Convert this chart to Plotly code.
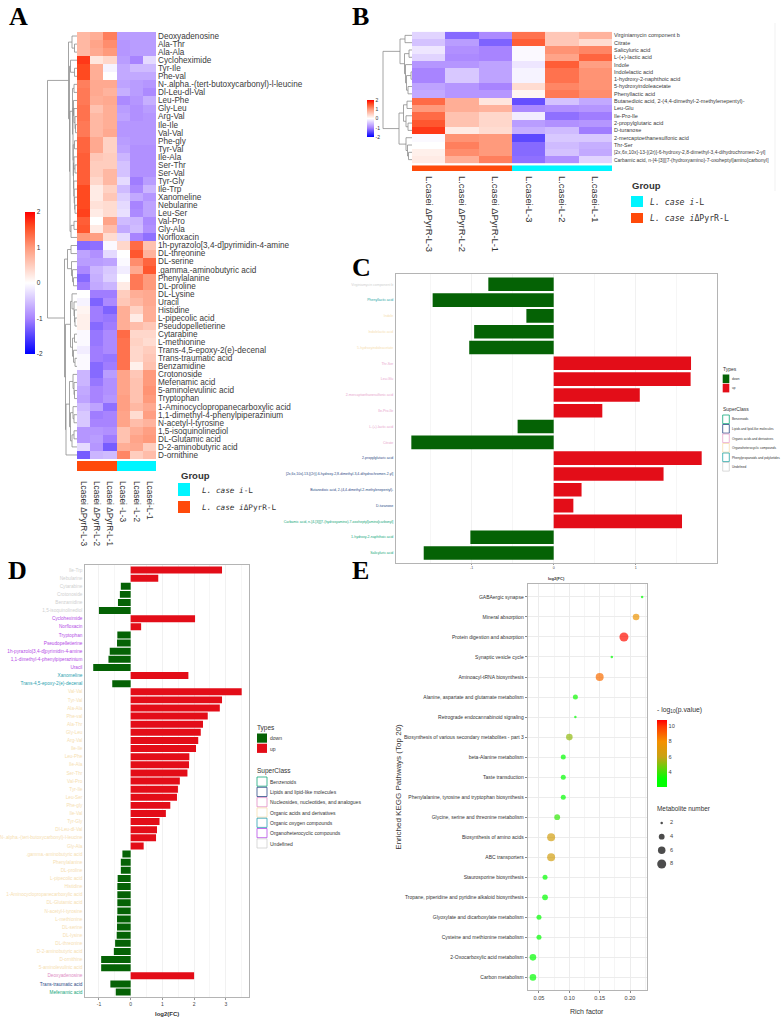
import plotly.graph_objects as go

W, H = 783, 1021
FONT = "Liberation Sans"
MONO = "DejaVu Sans Mono"

# ---------- Panel A data ----------
A_COLUMNS = ["Lcasei ΔPyrR-L-3", "Lcasei ΔPyrR-L-2", "Lcasei ΔPyrR-L-1", "Lcasei -L-3", "Lcasei -L-2", "Lcasei-L-1"]
A_ROWS = ["Deoxyadenosine", "Ala-Thr", "Ala-Ala", "Cycloheximide", "Tyr-Ile", "Phe-val",
          "N-.alpha.-(tert-butoxycarbonyl)-l-leucine", "Dl-Leu-dl-Val", "Leu-Phe", "Gly-Leu", "Arg-Val", "Ile-Ile",
          "Val-Val", "Phe-gly", "Tyr-Val", "Ile-Ala", "Ser-Thr", "Ser-Val", "Tyr-Gly", "Ile-Trp", "Xanomeline",
          "Nebularine", "Leu-Ser", "Val-Pro", "Gly-Ala", "Norfloxacin", "1h-pyrazolo[3,4-d]pyrimidin-4-amine",
          "DL-threonine", "DL-serine", ".gamma.-aminobutyric acid", "Phenylalanine", "DL-proline", "DL-Lysine",
          "Uracil", "Histidine", "L-pipecolic acid", "Pseudopelletierine", "Cytarabine", "L-methionine",
          "Trans-4,5-epoxy-2(e)-decenal", "Trans-traumatic acid", "Benzamidine", "Crotonoside", "Mefenamic acid",
          "5-aminolevulinic acid", "Tryptophan", "1-Aminocyclopropanecarboxylic acid",
          "1,1-dimethyl-4-phenylpiperazinium", "N-acetyl-l-tyrosine", "1,5-isoquinolinediol", "DL-Glutamic acid",
          "D-2-aminobutyric acid", "D-ornithine"]
A_VALUES = [
    [.7, .8, 1.2, -.8, -.8, -.8], [.7, .9, 1.1, -.85, -.8, -.8], [.7, .85, 1.0, -.85, -.8, -.8],
    [1.7, .25, .4, -.8, -1.0, -.3], [1.6, .8, -.1, -.7, -.55, -.55], [1.6, .8, 0, -.7, -.7, -.7],
    [1.2, .85, .85, -.75, -.8, -.85], [1.25, .85, .75, -.65, -.8, -.95], [1.25, .8, .85, -.95, -.85, -.65],
    [1.3, .6, .8, -.8, -.9, -.8], [1.3, .7, .8, -.75, -.9, -.85], [1.25, .7, .8, -.85, -.85, -.85],
    [1.25, .7, .85, -.85, -.85, -.85], [1.4, .85, .45, -.8, -.85, -.85], [1.4, .85, .45, -.75, -.9, -.9],
    [1.45, .55, .5, -.6, -.9, -.9], [1.45, .5, .5, -.5, -.9, -.9], [1.45, .5, .7, -.5, -.9, -.9],
    [1.45, .4, .7, -.3, -1.05, -.8], [1.6, .2, .45, -.55, -.95, -.6], [1.6, .2, .55, -.4, -.7, -.85],
    [1.6, .3, .35, -.3, -1.0, -.75], [1.65, .2, .35, -.25, -.95, -.75], [1.45, 0.0, .9, -.55, -.6, -.95],
    [1.5, .2, .65, -.7, -.55, -.9], [1.0, .95, .35, -.3, -1.0, -1.15], [-1.2, -1.15, -.05, .4, 1.35, .6],
    [-.75, -.9, -.3, 0, 1.5, .75], [-.8, -.8, -.75, -.05, 1.1, 1.4], [-.95, -.6, -.45, -.15, .85, 1.5],
    [-1.2, -.65, -.4, 0, 1.25, 1.0], [-1.05, -.7, -.6, .2, 1.25, 1.0], [0, -1.05, -1.05, .5, .8, .85],
    [-.1, -1.25, -.95, .55, .7, .85], [.1, -1.05, -1.25, .8, .45, .8], [.15, -1.05, -1.1, .8, .2, .8],
    [.15, -1.2, -1.05, .8, .65, .55], [-.05, -1.1, -.95, 1.35, .4, .4], [-.05, -1.1, -.95, 1.3, .45, .35],
    [-.15, -1.05, -.95, 1.3, .4, .5], [-.05, -1.05, -1.1, 1.3, .4, .55], [-.05, -1.2, -1.05, 1.3, .15, .6],
    [-.6, -1.2, -.8, .9, .55, 1.0], [-.6, -1.1, -.9, .9, .6, 1.0], [-.7, -1.0, -.9, .9, .6, 1.05],
    [-.75, -1.0, -.85, .95, .6, 1.0], [-.55, -.75, -1.15, .95, .7, .85], [-.45, -1.05, -1.0, .9, .35, .95],
    [-.45, -1.0, -1.0, .9, .65, .75], [-.85, -.85, -.9, .6, .8, .95], [-.85, -.8, -1.05, .6, .9, 1.0],
    [-.3, -.85, -1.3, .8, .85, .5], [-1.3, -.6, -.55, 1.15, .5, .65]]
# Dendrogram merges: [height, child, child]; a bare integer is a heatmap row.
A_TREE = [29.5,
          [8.5, [5, 0, [2.5, 1, 2]],
           [7.5, [6.5, 3, [2.5, 4, 5]],
            [7, [4.5, [3, 6, 7],
                 [4, [3.5, 8, [3, 9, [2, 10, [1.5, 11, 12]]]],
                  [3.8, [2.5, 13, 14],
                   [3.5, [3, 15, [2, 16, 17]], [3.2, 18, [2.8, 19, [2.4, 20, [2, 21, 22]]]]]]]],
             [6, [3, 23, 24], 25]]]],
          [12.5,
           [9.5, [6, 26, 27], [5.5, 28, [4.5, 29, [3.5, 30, 31]]]],
           [11.5,
            [6.5, [5, 32, [3, 33, [2.5, 34, [2, 35, 36]]]], [4.5, [2.5, 37, 38], [3.5, 39, [2, 40, 41]]]],
            [11, [7.5, [4, 42, [3, 43, [2.5, 44, 45]]],
                  [6.5, [4, 46, [3, 47, 48]], [5, [3, 49, 50], 51]]], 52]]]]

# ---------- Panel B data ----------
B_COLUMNS = ["L.casei ΔPyrR-L-3", "L.casei ΔPyrR-L-2", "L.casei ΔPyrR-L-1", "L.casei-L-3", "L.casei-L-2", "L.casei-L-1"]
B_ROWS = ["Virginiamycin component b", "Citrate", "Salicyluric acid", "L-(+)-lactic acid", "Indole",
          "Indolelactic acid", "1-hydroxy-2-naphthoic acid", "5-hydroxyindoleacetate", "Phenyllactic acid",
          "Butanedioic acid, 2-(4,4-dimethyl-2-methylenepentyl)-", "Leu-Glu", "Ile-Pro-Ile", "2-propylglutaric acid",
          "D-turanose", "2-mercaptoethanesulfonic acid", "Thr-Ser",
          "[2x,6x,10x]-13-[(2r)]-6-hydroxy-2,8-dimethyl-3,4-dihydrochromen-2-yl]",
          "Carbamic acid, n-[4-[3][[7-(hydroxyamino)-7-oxoheptyl]amino]carbonyl]"]
B_LONG_ROWS = [16, 17]
B_VALUES = [
    [-.35, -1.2, -.95, 1.3, .55, .75], [-.5, -.8, -1.25, 1.45, .55, .35], [-.2, -.9, -1.0, -.05, 1.05, 1.15],
    [-.35, -.95, -1.0, -.05, .9, 1.4], [-.85, -.85, -.75, -.2, 1.45, .95], [-1.0, -.45, -.75, -.1, 1.3, 1.05],
    [-1.0, -.45, -.75, -.1, 1.3, 1.05], [-.75, -.85, -1.0, .35, 1.15, 1.05], [-.7, -.85, -.85, .1, 1.25, 1.1],
    [1.35, .8, .25, -1.4, -.5, -.7], [1.0, .8, .75, -.95, -.9, -.85], [1.35, .6, .4, -.15, -1.15, -1.05],
    [1.5, .6, .4, -.8, -.9, -.85], [1.7, .2, .35, -.65, -.55, -1.05], [-.05, 1.05, 1.0, -1.45, -.45, -.45],
    [0, 1.2, 1.0, -1.2, -.55, -.65], [.15, 1.1, 1.0, -1.2, -.5, -.7], [.2, .8, 1.2, -1.15, -.9, -.35]]
B_TREE = [29,
          [12, [7, 0, 1], [7.5, [3, 2, 3], [6.5, 4, [5.5, [1, 5, 6], [4, 7, 8]]]]],
          [13, [8.5, [5, 9, 10], [6, 11, [4, 12, 13]]], [6, 14, [4.5, 15, [3.5, 16, 17]]]]]

# ---------- Panel C data ----------
C_NAMES = ["Virginiamycin component b", "Phenyllactic acid", "Indole", "Indolelactic acid", "5-hydroxyindoleacetate",
           "Thr-Ser", "Leu-Glu", "2-mercaptoethanesulfonic acid", "Ile-Pro-Ile", "L-(+)-lactic acid", "Citrate",
           "2-propylglutaric acid", "[2x,6x,10x]-13-[(2r)]-6-hydroxy-2,8-dimethyl-3,4-dihydrochromen-2-yl]",
           "Butanedioic acid, 2-(4,4-dimethyl-2-methylenepentyl)-", "D-turanose",
           "Carbamic acid, n-[4-[3][[7-(hydroxyamino)-7-oxoheptyl]amino]carbonyl]",
           "1-hydroxy-2-naphthoic acid", "Salicyluric acid"]
C_FC = [-.797, -1.476, -.333, -.97, -1.03, 1.675, 1.67, 1.05, .593, -.44, -1.736, 1.805, 1.34, .34, .24, 1.565,
        -1.016, -1.585]
C_CLASS = ["Undefined", "Phenylpropanoids and polyketides", "Organoheterocyclic compounds",
           "Organoheterocyclic compounds", "Organoheterocyclic compounds", "Organic acids and derivatives",
           "Organic acids and derivatives", "Organic acids and derivatives", "Organic acids and derivatives",
           "Organic acids and derivatives", "Organic acids and derivatives", "Lipids and lipid-like molecules",
           "Lipids and lipid-like molecules", "Lipids and lipid-like molecules", "Lipids and lipid-like molecules",
           "Benzenoids", "Benzenoids", "Benzenoids"]
C_LEGEND = ["Benzenoids", "Lipids and lipid-like molecules", "Organic acids and derivatives",
            "Organoheterocyclic compounds", "Phenylpropanoids and polyketides", "Undefined"]

# ---------- Panel D data ----------
D_NAMES = ["Ile-Trp", "Nebularine", "Cytarabine", "Crotonoside", "Benzamidine", "1,5-isoquinolinediol",
           "Cycloheximide", "Norfloxacin", "Tryptophan", "Pseudopelletierine", "1h-pyrazolo[3,4-d]pyrimidin-4-amine",
           "1,1-dimethyl-4-phenylpiperazinium", "Uracil", "Xanomeline", "Trans-4,5-epoxy-2(e)-decenal",
           "Val-Val", "Tyr-Val", "Ala-Ala", "Phe-val", "Ala-Thr", "Gly-Leu", "Arg-Val", "Ile-Ile", "Leu-Phe", "Ile-Ala",
           "Ser-Thr", "Val-Pro", "Tyr-Ile", "Leu-Ser", "Phe-gly", "Ile-Val", "Tyr-Gly", "Dl-Leu-dl-Val",
           "N-.alpha.-(tert-butoxycarbonyl)-l-leucine", "Gly-Ala", ".gamma.-aminobutyric acid", "Phenylalanine",
           "DL-proline", "L-pipecolic acid", "Histidine", "1-Aminocyclopropanecarboxylic acid", "DL-Glutamic acid",
           "N-acetyl-l-tyrosine", "L-methionine", "DL-serine", "DL-lysine", "DL-threonine", "D-2-aminobutyric acid",
           "D-ornithine", "5-aminolevulinic acid", "Deoxyadenosine", "Trans-traumatic acid", "Mefenamic acid"]
D_FC = [2.88, .87, -.31, -.34, -.40, -1.0, 2.03, .33, -.42, -.43, -.66, -.70, -1.18, 1.82, -.58,
        3.5, 2.88, 2.81, 2.43, 2.28, 2.21, 2.13, 2.06, 1.85, 1.84, 1.79, 1.55, 1.49, 1.46, 1.25, 1.11, .91, .83, .80,
        .41, -.26, -.31, -.31, -.41, -.42, -.42, -.42, -.42, -.43, -.43, -.44, -.49, -.53, -.93, -.93, 2.0, -.64, -.47]
D_CLASS = (["Undefined"] * 6 + ["Organoheterocyclic compounds"] * 7 + ["Organic oxygen compounds"] * 2
           + ["Organic acids and derivatives"] * 35 + ["Nucleosides, nucleotides, and analogues"]
           + ["Lipids and lipid-like molecules"] + ["Benzenoids"])
D_LEGEND = ["Benzenoids", "Lipids and lipid-like molecules", "Nucleosides, nucleotides, and analogues",
            "Organic acids and derivatives", "Organic oxygen compounds", "Organoheterocyclic compounds", "Undefined"]

# ---------- Panel E data ----------
E_PATHWAYS = ["GABAergic synapse", "Mineral absorption", "Protein digestion and absorption", "Synaptic vesicle cycle",
              "Aminoacyl-tRNA biosynthesis", "Alanine, aspartate and glutamate metabolism",
              "Retrograde endocannabinoid signaling", "Biosynthesis of various secondary metabolites - part 3",
              "beta-Alanine metabolism", "Taste transduction", "Phenylalanine, tyrosine and tryptophan biosynthesis",
              "Glycine, serine and threonine metabolism", "Biosynthesis of amino acids", "ABC transporters",
              "Staurosporine biosynthesis", "Tropane, piperidine and pyridine alkaloid biosynthesis",
              "Glyoxylate and dicarboxylate metabolism", "Cysteine and methionine metabolism",
              "2-Oxocarboxylic acid metabolism", "Carbon metabolism"]
E_RICH = [.22, .21, .19, .17, .15, .11, .11, .10, .09, .09, .09, .08, .07, .07, .06, .06, .05, .05, .04, .04]
E_LOGP = [2.6, 7.6, 10.6, 2.6, 8.8, 3.3, 2.6, 5.2, 2.9, 2.9, 2.9, 3.8, 6.4, 6.4, 2.9, 3.0, 2.8, 2.8, 2.6, 2.6]
E_COUNT = [2, 5, 8, 2, 7, 3, 2, 5, 3, 3, 3, 4, 7, 7, 3, 4, 3, 3, 5, 5]
E_LEGEND_COUNTS = [2, 4, 6, 8]

# ---------- styling ----------
HEAT_SCALE = [[0, "#0000ff"], [.25, "#a884ff"], [.5, "#ffffff"], [.75, "#ff9a7c"], [.9, "#ff4a20"], [1, "#ff0000"]]
GROUP_SCALE = [[0, "#ff4a0a"], [1, "#00f5ff"]]
CYAN, ORANGE = "#00f5ff", "#ff4a0a"
UP, DOWN = "#e30d18", "#056205"
CLASS_COLOR = {"Benzenoids": "#12a77a", "Lipids and lipid-like molecules": "#2c4a86",
               "Nucleosides, nucleotides, and analogues": "#e08cc4", "Organic acids and derivatives": "#f6deb0",
               "Organic oxygen compounds": "#2a9fb0", "Organoheterocyclic compounds": "#b44be6",
               "Undefined": "#cfcfcf"}
C_CLASS_COLOR = {**CLASS_COLOR, "Organic acids and derivatives": "#e8a4cc", "Organoheterocyclic compounds": "#f6deb0",
                 "Phenylpropanoids and polyketides": "#2aa6a6"}
SIZE_OF_COUNT = {2: 2.5, 3: 5, 4: 5.8, 5: 6.6, 6: 7.5, 7: 8, 8: 9}
E_SCALE = [[0, "#00ff00"], [.12, "#00ff00"], [.45, "#c8a214"], [.68, "#f59000"], [.9, "#ff3a00"], [1, "#ff0000"]]

fig = go.Figure()
layout = {}
n_axes = [0]


def dx(a, b):
    return [a / W, b / W]


def dy(a, b):
    return [1 - b / H, 1 - a / H]


def axes(x0, x1, y0, y1, xopt=None, yopt=None):
    n_axes[0] += 1
    n = n_axes[0]
    sfx = "" if n == 1 else str(n)
    base = dict(visible=False, showgrid=False, zeroline=False, fixedrange=True)
    layout["xaxis" + sfx] = {**base, "domain": dx(x0, x1), "anchor": "y" + sfx, **(xopt or {})}
    layout["yaxis" + sfx] = {**base, "domain": dy(y0, y1), "anchor": "x" + sfx, **(yopt or {})}
    return "x" + sfx, "y" + sfx


def text(x, y, s, size, color="#333", anchor="left", **kw):
    layout.setdefault("annotations", []).append(dict(
        x=x / W, y=1 - y / H, xref="paper", yref="paper", text=s, showarrow=False, xanchor=anchor, yanchor="middle",
        borderpad=0, borderwidth=0, font=dict(size=size, color=color, family=kw.pop("family", FONT)), **kw))


def box(x0, y0, x1, y1, fill="rgba(0,0,0,0)", line=None, lw=0.8):
    layout.setdefault("shapes", []).append(dict(
        type="rect", xref="paper", yref="paper", x0=x0 / W, x1=x1 / W, y0=1 - y0 / H, y1=1 - y1 / H,
        fillcolor=fill, line=dict(color=line or fill, width=lw if line else 0)))


def dendro_lines(node, xs, ys):
    """Walk the merge list; return (row position, height) of node and extend the line path."""
    if isinstance(node, int):
        return node, 0
    h, a, b = node
    ya, ha = dendro_lines(a, xs, ys)
    yb, hb = dendro_lines(b, xs, ys)
    xs += [ha, h, h, hb, None]
    ys += [ya, ya, yb, yb, None]
    return (ya + yb) / 2, h


def heat_panel(rows, cols, values, tree, x0, x1, y0, y1, tree_x0, bar0, bar1, lab_size, col_size, standoff, cb,
               ticktext=None):
    xa, ya = axes(x0, x1, y0, y1,
                  yopt=dict(visible=True, side="right", ticks="", showline=False, tickmode="array",
                            tickvals=list(range(len(rows))), ticktext=ticktext or rows, range=[len(rows) - .5, -.5],
                            tickfont=dict(size=lab_size, color="#3a3a3a", family=FONT), ticklabelstandoff=1),
                  xopt=dict(type="category"))
    fig.add_trace(go.Heatmap(z=values, x=cols, y=list(range(len(rows))), xaxis=xa, yaxis=ya, zmin=-2, zmax=2,
                             colorscale=HEAT_SCALE, hoverongaps=False,
                             colorbar=dict(x=cb[0] / W, xanchor="left", xpad=0, ypad=0, y=1 - cb[2] / H, yanchor="top",
                                           len=cb[3] - cb[2], lenmode="pixels", thickness=cb[1] - cb[0],
                                           thicknessmode="pixels", outlinewidth=0, ticks="", tickvals=[-2, -1, 0, 1, 2],
                                           ticktext=["-2", "-1", "0", "1", "2"],
                                           tickfont=dict(size=cb[4], color="#333", family=FONT))))
    # column annotation strip carries the sample names
    xb, yb = axes(x0, x1, bar0, bar1,
                  xopt=dict(visible=True, type="category", tickangle=90, ticks="", showline=False,
                            ticklabelstandoff=standoff, tickfont=dict(size=col_size, color="#333", family=FONT)))
    fig.add_trace(go.Heatmap(z=[[0, 0, 0, 1, 1, 1]], x=cols, xaxis=xb, yaxis=yb, colorscale=GROUP_SCALE,
                             showscale=False))
    # dendrogram
    xs, ys = [], []
    top = dendro_lines(tree, xs, ys)
    xd, yd = axes(tree_x0 - 1, x0, y0, y1, xopt=dict(range=[x0 - tree_x0 + 1, 0]),
                  yopt=dict(range=[len(rows) - .5, -.5]))
    fig.add_trace(go.Scatter(x=xs, y=ys, xaxis=xd, yaxis=yd, mode="lines", line=dict(color="#8d8d8d", width=0.8),
                             hoverinfo="skip"))
    return top


def colored(names, classes, table):
    return [f'<span style="color:{table[c]}">{n}</span>' for n, c in zip(names, classes)]


def bar_panel(names, fc, classes, table, x0, x1, y0, y1, xrange, yrange, tickvals, lab_size, tick_size):
    frame = dict(showline=True, mirror=True, linecolor="#b4b4b4", linewidth=1)
    xa, ya = axes(x0, x1, y0, y1,
                  xopt=dict(visible=True, range=xrange, tickvals=tickvals, ticktext=[str(v) for v in tickvals],
                            showgrid=True, gridcolor="#f1f1f1", gridwidth=.6, ticks="outside", ticklen=1.5,
                            tickcolor="#999", minor=dict(dtick=.5, showgrid=True, gridcolor="#f6f6f6", gridwidth=.5),
                            tickfont=dict(size=tick_size, color="#444", family=FONT), **frame),
                  yopt=dict(visible=True, range=yrange, tickmode="array", tickvals=list(range(len(names))),
                            ticktext=colored(names, classes, table), ticks="", ticklabelstandoff=1,
                            tickfont=dict(size=lab_size, family=FONT), **frame))
    for sign, color in ((-1, DOWN), (1, UP)):
        idx = [i for i, v in enumerate(fc) if v * sign > 0]
        fig.add_trace(go.Bar(x=[fc[i] for i in idx], y=idx, orientation="h", xaxis=xa, yaxis=ya, width=.86,
                             marker=dict(color=color, line=dict(width=0))))


def bar_legend(x, type_y, swatch, gap, class_y, class_gap, labels, table, title_size, size):
    text(x, type_y, "Types", title_size)
    for i, (lab, col) in enumerate((("down", DOWN), ("up", UP))):
        y0 = type_y + 5.5 + i * gap
        box(x, y0, x + swatch[0], y0 + swatch[1] - .4, fill=col)
        text(x + swatch[0] + 2.5, y0 + swatch[1] / 2, lab, size)
    text(x, class_y, "SuperClass", title_size)
    for i, lab in enumerate(labels):
        y0 = class_y + 6 + i * class_gap
        box(x, y0, x + swatch[0], y0 + swatch[1] - .4, line=table[lab])
        text(x + swatch[0] + 2.5, y0 + swatch[1] / 2, lab, size)


# ---------- A ----------
heat_panel(A_ROWS, A_COLUMNS, A_VALUES, A_TREE, 77, 156, 32, 459, 47.5, 461, 471, 8.2, 8.3, 9,
           (25, 35, 212, 354, 6.5))
text(181, 476, "<b>Group</b>", 9.5)
box(178, 483, 190, 496, fill=CYAN)
box(178, 501, 190, 513, fill=ORANGE)
text(202, 490, "<i>L. case i</i>-L", 7.7, family=MONO)
text(202, 507.5, "<i>L. case i</i>ΔPyrR-L", 7.7, family=MONO)

# ---------- B ----------
b_ticks = [f'<span style="font-size:4.95px">{r}</span>' if i in B_LONG_ROWS else r for i, r in enumerate(B_ROWS)]
heat_panel(B_ROWS, B_COLUMNS, B_VALUES, B_TREE, 412, 612, 31.7, 163.3, 383, 165.3, 171, 5.5, 9.4, 4,
           (367, 374, 100, 137, 5), ticktext=b_ticks)
text(631.5, 186, "<b>Group</b>", 9.5)
box(631, 196, 643, 207, fill=CYAN)
box(631, 213, 643, 223, fill=ORANGE)
text(650, 202, "<i>L. case i</i>-L", 8.2, family=MONO)
text(650, 218, "<i>L. case i</i>ΔPyrR-L", 8.2, family=MONO)
layout.setdefault("shapes", []).append(dict(type="line", xref="paper", yref="paper", x0=775 / W, x1=775 / W,
                                            y0=1 - 23 / H, y1=1 - 191 / H, line=dict(color="#eeeeee", width=.8)))

# ---------- C ----------
bar_panel(C_NAMES, C_FC, C_CLASS, C_CLASS_COLOR, 396, 716.7, 274, 562.5, [-1.923, 1.988], [17.6, -.65], [-1, 0, 1],
          3.5, 3.6)
text(556, 578, "<b>log2(FC)</b>", 4, anchor="center")
bar_legend(722.7, 369, (6.6, 9), 9.3, 409, 9.5, C_LEGEND, C_CLASS_COLOR, 5, 3.15)

# ---------- D ----------
bar_panel(D_NAMES, D_FC, D_CLASS, CLASS_COLOR, 85.3, 249.3, 565, 997.3, [-1.43, 3.74], [52.65, -.62],
          [-1, 0, 1, 2, 3], 4.7, 5)
text(167, 1014, "<b>log2(FC)</b>", 6, anchor="center")
bar_legend(257, 728, (10, 9.6), 10.2, 771, 10.3, D_LEGEND, CLASS_COLOR, 6.5, 5)

# ---------- E ----------
line = dict(showline=True, mirror=True, linecolor="#b4b4b4", linewidth=1)
xe, ye = axes(527.7, 647.3, 584.3, 990,
              xopt=dict(visible=True, range=[.0314, .2285], tickvals=[.05, .10, .15, .20],
                        ticktext=["0.05", "0.10", "0.15", "0.20"], showgrid=True, gridcolor="#ececec", gridwidth=.6,
                        minor=dict(dtick=.025, showgrid=True, gridcolor="#f5f5f5", gridwidth=.5), ticks="outside",
                        ticklen=2, tickcolor="#888", tickfont=dict(size=5.6, color="#444", family=FONT), **line),
              yopt=dict(visible=True, range=[19.63, -.63], tickmode="array", tickvals=list(range(20)),
                        ticktext=E_PATHWAYS, showgrid=True, gridcolor="#ececec", gridwidth=.6, ticks="outside",
                        ticklen=2, tickcolor="#888", tickfont=dict(size=5.0, color="#333", family=FONT), **line))
fig.add_trace(go.Scatter(x=E_RICH, y=list(range(20)), xaxis=xe, yaxis=ye, mode="markers",
                         marker=dict(color=E_LOGP, size=[SIZE_OF_COUNT[c] for c in E_COUNT], colorscale=E_SCALE,
                                     cmin=2.05, cmax=10.8, line=dict(width=0),
                                     colorbar=dict(x=656.7 / W, xanchor="left", xpad=0, ypad=0, y=1 - 720 / H,
                                                   yanchor="top", len=67, lenmode="pixels", thickness=10,
                                                   thicknessmode="pixels", outlinewidth=0, ticks="",
                                                   tickvals=[4, 6, 8, 10],
                                                   tickfont=dict(size=5.6, color="#444", family=FONT)))))
text(587, 1011.7, "Rich factor", 7, anchor="center")
text(397.7, 787, "Enriched KEGG Pathways (Top 20)", 8, anchor="center", textangle=-90)
text(656.7, 710, "- log<sub>10</sub>(p.value)", 6.8)
text(656.7, 808.7, "Metabolite number", 6.4)
xl, yl = axes(655, 690, 816.2, 870.8, xopt=dict(range=[0, 35]), yopt=dict(range=[9, 1]))
fig.add_trace(go.Scatter(x=[6.7] * 4, y=E_LEGEND_COUNTS, xaxis=xl, yaxis=yl, mode="markers",
                         marker=dict(color="black", size=[SIZE_OF_COUNT[c] for c in E_LEGEND_COUNTS], line=dict(width=0))))
fig.add_trace(go.Scatter(x=[15] * 4, y=E_LEGEND_COUNTS, xaxis=xl, yaxis=yl, mode="text",
                         text=[str(c) for c in E_LEGEND_COUNTS], textposition="middle right",
                         textfont=dict(size=5.6, color="#444", family=FONT)))

# ---------- panel letters ----------
for letter, x, y in (("A", 9, 17), ("B", 352, 17), ("C", 352, 268), ("D", 8, 570), ("E", 352, 570)):
    text(x, y, f"<b>{letter}</b>", 26, color="black", family="Liberation Serif")

fig.update_layout(width=W, height=H, margin=dict(l=0, r=0, t=0, b=0, autoexpand=False), paper_bgcolor="white",
                  plot_bgcolor="white", showlegend=False, barmode="overlay", font=dict(family=FONT), **layout)
fig.write_html("out.html", config=dict(displayModeBar=False),
               post_script="document.body.style.margin='0';document.body.style.overflow='hidden';")
